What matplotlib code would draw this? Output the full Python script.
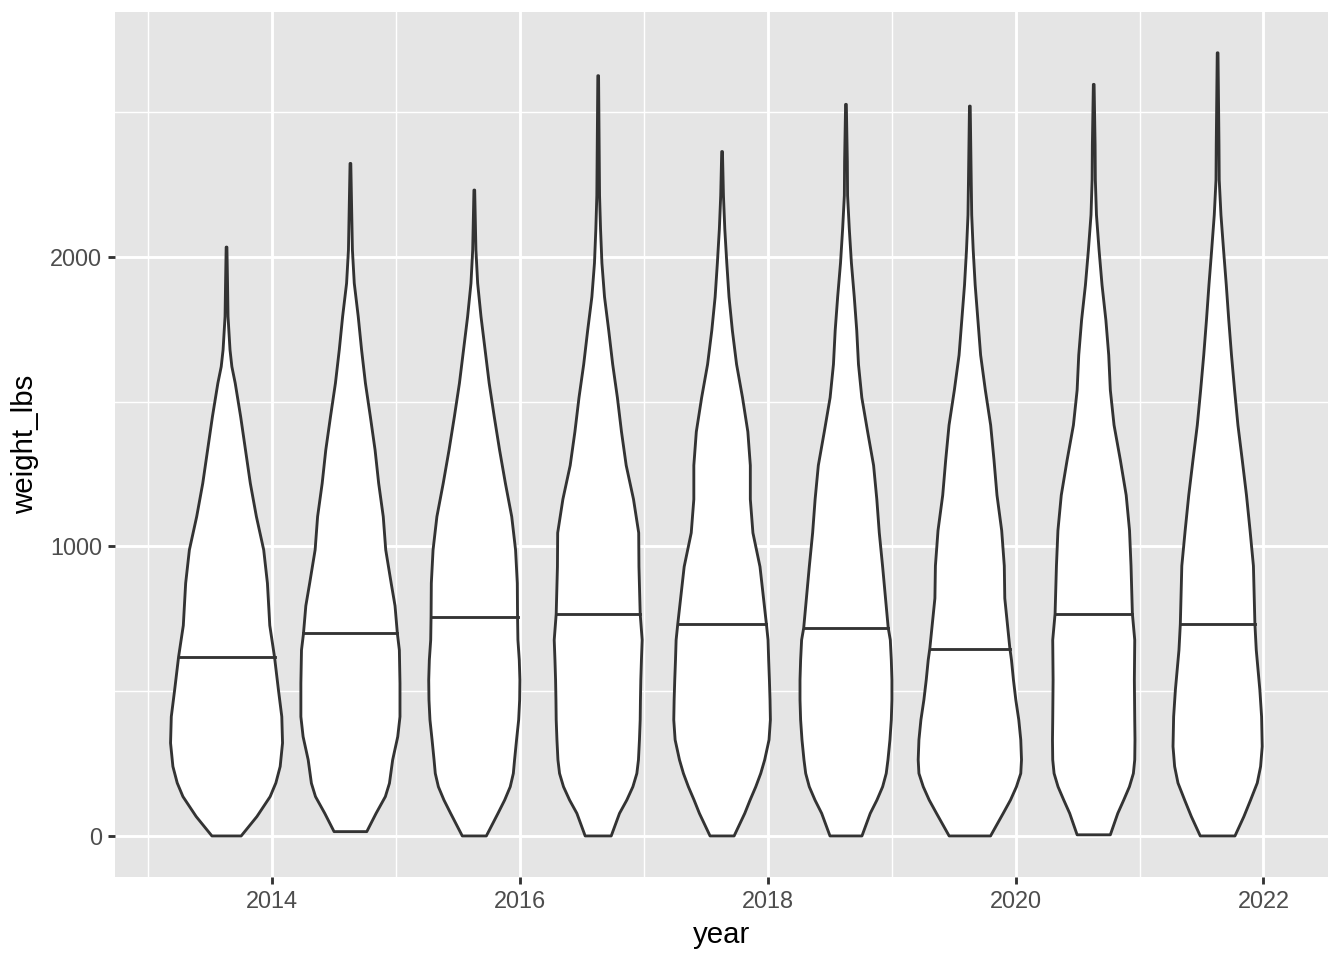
import numpy as np
import matplotlib
matplotlib.use("Agg")
import matplotlib.pyplot as plt

plt.rcParams['font.family'] = ['Liberation Sans', 'DejaVu Sans']

# violin centres on the year axis
centers = [2013.63, 2014.63, 2015.63, 2016.63, 2017.63, 2018.63, 2019.63, 2020.63, 2021.63]

# outline of each violin: weight (lbs) and half width (years)
w1 = [2034, 1909, 1794, 1679, 1621, 1564, 1448, 1333, 1218, 1103, 988, 873, 727, 619, 504, 412, 321, 240, 183, 136, 67, 0]
h1 = [.003, .008, .012, .028, .043, .07, .114, .153, .192, .241, .30, .33, .349, .387, .419, .446, .452, .433, .398, .352, .245, .118]

w2 = [2323, 2139, 2024, 1909, 1794, 1679, 1564, 1448, 1333, 1218, 1103, 988, 873, 795, 699, 642, 527, 412, 343, 263, 182, 136, 78, 15]
h2 = [.003, .011, .016, .031, .063, .09, .121, .161, .199, .228, .265, .285, .329, .36, .379, .395, .40, .40, .382, .341, .315, .282, .207, .132]

w3 = [2231, 2024, 1909, 1794, 1679, 1564, 1448, 1333, 1218, 1103, 988, 873, 758, 677, 608, 539, 470, 401, 332, 263, 216, 170, 124, 78, 0]
h3 = [.003, .013, .027, .054, .087, .12, .161, .204, .251, .302, .333, .347, .349, .352, .363, .368, .366, .358, .341, .325, .315, .29, .245, .191, .097]

w4 = [2626, 2212, 2096, 1979, 1862, 1746, 1629, 1514, 1396, 1280, 1163, 1047, 930, 767, 677, 608, 539, 470, 401, 332, 263, 216, 170, 124, 78, 0]
h4 = [.003, .011, .019, .03, .051, .085, .117, .155, .188, .226, .285, .327, .329, .339, .355, .349, .344, .341, .339, .333, .325, .312, .28, .231, .172, .105]

w5 = [2364, 2212, 2096, 1979, 1862, 1746, 1629, 1514, 1396, 1280, 1163, 1047, 930, 731, 677, 608, 539, 470, 401, 332, 263, 216, 170, 124, 78, 0]
h5 = [.003, .011, .022, .038, .056, .083, .117, .165, .208, .228, .228, .249, .306, .358, .371, .376, .382, .387, .39, .379, .344, .312, .272, .226, .183, .097]

w6 = [2527, 2329, 2212, 2096, 1979, 1862, 1746, 1629, 1514, 1396, 1280, 1163, 1047, 930, 719, 677, 608, 539, 470, 401, 332, 263, 216, 170, 124, 78, 0]
h6 = [.003, .011, .013, .027, .044, .067, .087, .101, .128, .175, .223, .249, .269, .296, .341, .358, .366, .371, .371, .366, .355, .339, .325, .296, .25, .196, .129]

w7 = [2521, 2266, 2145, 2024, 1903, 1782, 1661, 1540, 1419, 1298, 1177, 1055, 933, 821, 648, 608, 539, 470, 401, 332, 263, 216, 170, 124, 78, 0]
h7 = [.003, .011, .015, .027, .043, .065, .087, .125, .168, .195, .219, .257, .278, .282, .323, .336, .352, .371, .395, .411, .417, .411, .376, .328, .269, .167]

w8 = [2596, 2387, 2266, 2145, 2024, 1903, 1782, 1661, 1540, 1419, 1298, 1177, 1055, 933, 768, 677, 539, 401, 332, 263, 216, 170, 124, 78, 4]
h8 = [.003, .011, .013, .022, .043, .067, .098, .121, .134, .164, .215, .262, .289, .301, .312, .331, .328, .331, .333, .331, .32, .288, .242, .194, .134]

w9 = [2705, 2387, 2266, 2145, 2024, 1903, 1782, 1661, 1540, 1419, 1298, 1177, 1055, 933, 732, 642, 504, 412, 309, 240, 183, 124, 67, 0]
h9 = [.003, .011, .013, .027, .048, .07, .09, .112, .137, .164, .199, .233, .262, .289, .301, .312, .341, .355, .36, .347, .32, .266, .212, .14]

weights = [w1, w2, w3, w4, w5, w6, w7, w8, w9]
halfwidths = [h1, h2, h3, h4, h5, h6, h7, h8, h9]
medians = [618, 700, 758, 767, 731, 719, 646, 768, 732]

fig = plt.figure(figsize=(7, 5), dpi=192)
ax = fig.add_axes([0.0856, 0.0865, 0.9024, 0.901])
ax.set_facecolor('#E5E5E5')

for c, w, h, m in zip(centers, weights, halfwidths, medians):
    w = np.array(w, dtype=float)
    h = np.array(h, dtype=float)
    xs = np.concatenate([c - h, (c + h)[::-1]])
    ys = np.concatenate([w, w[::-1]])
    ax.fill(xs, ys, facecolor='white', edgecolor='#333333', linewidth=1.07,
            joinstyle='round', zorder=3)
    # median line across the violin
    hm = np.interp(m, w[::-1], h[::-1])
    ax.plot([c - hm, c + hm], [m, m], color='#333333', linewidth=1.07, zorder=4)

ax.set_xlim(2012.73, 2022.52)
ax.set_ylim(-141.6, 2846)
ax.set_xticks([2014, 2016, 2018, 2020, 2022])
ax.set_xticks([2013, 2015, 2017, 2019, 2021], minor=True)
ax.set_yticks([0, 1000, 2000])
ax.set_yticks([500, 1500, 2500], minor=True)

ax.grid(which='major', color='white', linewidth=1.07, zorder=0)
ax.grid(which='minor', color='white', linewidth=0.53, zorder=0)
ax.set_axisbelow(True)
for s in ax.spines.values():
    s.set_visible(False)

ax.tick_params(which='major', length=2.75, width=1.07, color='#333333',
               labelsize=8.8, labelcolor='#4D4D4D', pad=2.2)
ax.tick_params(which='minor', length=0)

ax.set_xlabel('year', fontsize=11, color='black', labelpad=3)
ax.set_ylabel('weight_lbs', fontsize=11, color='black', labelpad=4)

fig.savefig('out.png', dpi=192)
